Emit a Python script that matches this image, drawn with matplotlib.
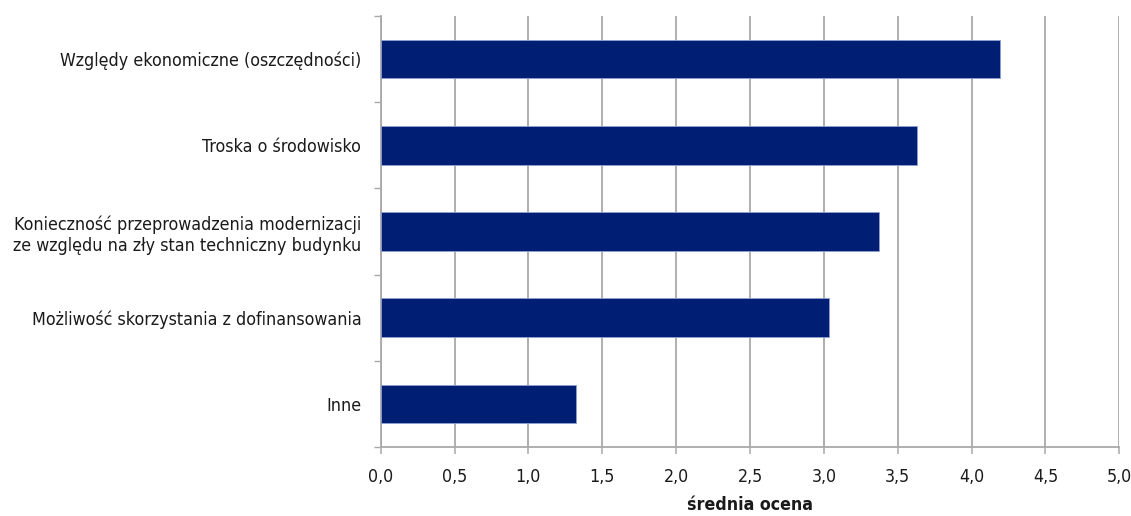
"""Średnia ocena motywacji do modernizacji - poziomy wykres słupkowy."""

import matplotlib
import numpy as np

matplotlib.use("Agg")
import matplotlib.pyplot as plt
from matplotlib import font_manager
from matplotlib.ticker import FixedLocator, FuncFormatter

categories = [
    "Względy ekonomiczne (oszczędności)",
    "Troska o środowisko",
    "Konieczność przeprowadzenia modernizacji\nze względu na zły stan techniczny budynku",
    "Możliwość skorzystania z dofinansowania",
    "Inne",
]
values = [4.19, 3.63, 3.37, 3.035, 1.32]
x_ticks = [0.0, 0.5, 1.0, 1.5, 2.0, 2.5, 3.0, 3.5, 4.0, 4.5, 5.0]
x_label = "średnia ocena"

BAR = "#001e73"
GRID = "#a9a9a9"

# wąski krój jeśli jest, inaczej Lato
faces = font_manager.fontManager.ttflist
narrow = [f for f in faces if f.stretch in ("condensed", "semi-condensed", "extra-condensed")
          or "Condensed" in f.name or "Narrow" in f.name]
if narrow:
    FONT = narrow[0].name
    STRETCH = narrow[0].stretch
else:
    FONT = "Lato"
    STRETCH = "normal"
matplotlib.rcParams["font.family"] = [FONT, "DejaVu Sans"]
matplotlib.rcParams["font.stretch"] = STRETCH


def main():
    fig = plt.figure(figsize=(11.31, 5.16), dpi=100)
    ax = fig.add_axes([0.3366, 0.1337, 0.6531, 0.8353])

    y = np.arange(len(categories))
    ax.barh(y, values, height=0.45, color=BAR, edgecolor="#8fa0d0", linewidth=0.6, zorder=3)

    ax.set_xlim(0, 5)
    ax.set_ylim(len(categories) - 0.5, -0.5)
    ax.set_xticks(x_ticks)
    ax.xaxis.set_major_formatter(FuncFormatter(lambda v, _: f"{v:.1f}".replace(".", ",")))
    ax.grid(axis="x", color=GRID, lw=1.3, zorder=0)

    # granice kategorii jako krótkie kreski, podpisy na środkach
    ax.yaxis.set_major_locator(FixedLocator(np.arange(-0.5, len(categories), 1.0)))
    ax.yaxis.set_major_formatter(FuncFormatter(lambda v, _: ""))
    ax.yaxis.set_minor_locator(FixedLocator(y))
    ax.set_yticklabels(categories, minor=True, fontsize=12.8, color="#1a1a1a", ha="right",
                       multialignment="center")
    ax.tick_params(axis="y", which="major", length=5, width=1.0, color=GRID)
    ax.tick_params(axis="y", which="minor", length=0, pad=14)
    ax.tick_params(axis="x", length=5, width=1.1, color=GRID, labelsize=12.8,
                   labelcolor="#1a1a1a", pad=10)

    for s in ("top", "right"):
        ax.spines[s].set_visible(False)
    for s in ("left", "bottom"):
        ax.spines[s].set_color(GRID)
        ax.spines[s].set_linewidth(1.3)

    ax.set_xlabel(x_label, fontsize=12.8, fontweight="bold", color="#1a1a1a", labelpad=7)

    fig.savefig("out.png")


if __name__ == "__main__":
    main()
